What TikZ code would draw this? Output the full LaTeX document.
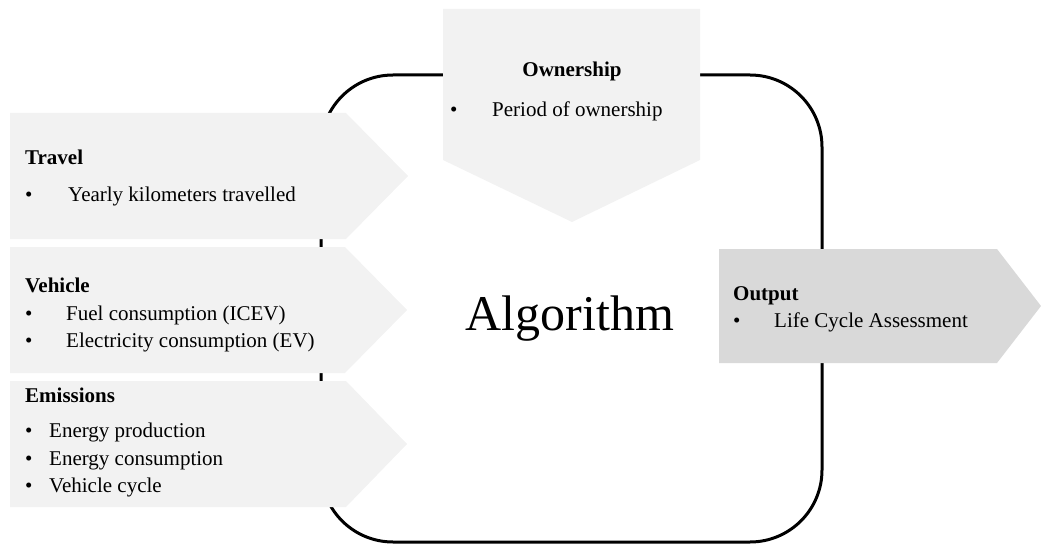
\documentclass[tikz,border=0pt]{standalone}
\usepackage{fontspec}
\setmainfont{Liberation Serif}
\definecolor{panelgray}{HTML}{F2F2F2}
\definecolor{outgray}{HTML}{D9D9D9}
\begin{document}
\begin{tikzpicture}[x=1pt,y=-1pt,
  inpanel/.style={fill=panelgray,draw=none},
  outpanel/.style={fill=outgray,draw=none},
  loop/.style={draw=black,line width=3pt,rounded corners=72pt},
  txt/.style={inner sep=0pt,anchor=base west,font=\fontsize{21}{25}\selectfont},
  head/.style={txt,font=\fontsize{21}{25}\selectfont\bfseries},
  bigword/.style={inner sep=0pt,anchor=base,font=\fontsize{50}{58}\selectfont}]
\useasboundingbox (0,0) rectangle (1041,548);

% central process loop
\draw[loop] (321,75) rectangle (822,542);

% input chevrons
\fill[inpanel] (10,113) -- (346,113) -- (408,176) -- (346,239) -- (10,239) -- cycle;
\fill[inpanel] (10,247) -- (345,247) -- (407,310) -- (345,373) -- (10,373) -- cycle;
\fill[inpanel] (10,381) -- (346,381) -- (407,444) -- (346,507) -- (10,507) -- cycle;
% ownership chevron pointing down
\fill[inpanel] (443,9) -- (700,9) -- (700,160) -- (572,222) -- (443,160) -- cycle;
% output chevron
\fill[outpanel] (719,249) -- (997,249) -- (1041,306) -- (997,363) -- (719,363) -- cycle;

% travel
\node[head] (travelH) at (25,165) {Travel};
\node[txt] (travelB1) at (25,202) {\textbullet};
\node[txt] (travel1) at (68,202) {Yearly kilometers travelled};

% vehicle
\node[head] (vehH) at (25,292) {Vehicle};
\node[txt] (vehB1) at (25,320) {\textbullet};
\node[txt] (veh1) at (66,320) {Fuel consumption (ICEV)};
\node[txt] (vehB2) at (25,347) {\textbullet};
\node[txt] (veh2) at (66,347) {Electricity consumption (EV)};

% emissions
\node[head] (emiH) at (25,402) {Emissions};
\node[txt] (emiB1) at (25,437) {\textbullet};
\node[txt] (emi1) at (49,437) {Energy production};
\node[txt] (emiB2) at (25,465) {\textbullet};
\node[txt] (emi2) at (49,465) {Energy consumption};
\node[txt] (emiB3) at (25,492) {\textbullet};
\node[txt] (emi3) at (49,492) {Vehicle cycle};

% ownership
\node[head,anchor=base] (ownH) at (572,77) {Ownership};
\node[txt] (ownB1) at (450,117) {\textbullet};
\node[txt] (own1) at (492,117) {Period of ownership};

% output
\node[head] (outH) at (733,300) {Output};
\node[txt] (outB1) at (733,327) {\textbullet};
\node[txt] (out1) at (774,327) {Life Cycle Assessment};

% centre label
\node[bigword] (algo) at (570,330) {Algorithm};
\end{tikzpicture}
\end{document}
